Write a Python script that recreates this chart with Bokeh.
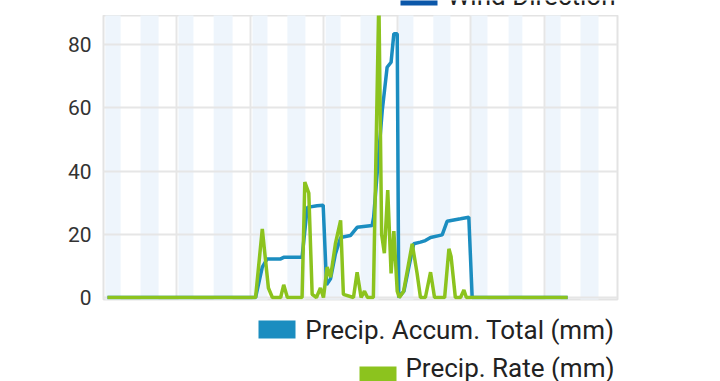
from bokeh.plotting import figure
from bokeh.layouts import column
from bokeh.models import Range1d, FixedTicker, ColumnDataSource
from bokeh.core.properties import value
from bokeh.embed import file_html
from bokeh.resources import INLINE

# ---- data (x in hours from chart start) ----
rate_hours = [1.3, 49.7, 51.9, 53.9, 55.2, 57.9, 58.9, 60.1, 64.9, 65.8, 67.1, 68.2,
              69.6, 70.9, 71.9, 73.1, 74.2, 75.8, 77.5, 78.4, 81.7, 82.9, 84.2, 85.3,
              86.3, 88.2, 90.0, 90.9, 91.8, 92.9, 94.0, 94.9, 96.0, 96.7, 98.1, 100.9,
              102.5, 103.6, 105.2, 106.9, 108.2, 111.5, 112.9, 113.6, 115.0, 116.7,
              117.8, 118.6, 151.7]
rate_mm = [0, 0, 21.7, 3, 0, 0, 4, 0, 0, 36.5, 33, 1,
           0, 3, 0, 9.6, 6.4, 17, 24.4, 1, 0, 8, 0, 2,
           0, 0, 95, 20, 14, 34, 7.6, 21, 2, 0, 2, 17,
           7.6, 0, 0, 8, 0, 0, 15.4, 13, 0, 0,
           2.4, 0, 0]

accum_hours = [1.3, 49.7, 51.9, 53.5, 57.9, 58.9, 64.9, 66.6, 69.8, 71.8, 72.9, 74.2,
               75.8, 77.5, 80.7, 82.9, 87.8, 88.3, 91.1, 92.7, 94.0, 94.9, 96.0, 96.5,
               98.2, 99.8, 101.4, 103.6, 105.2, 106.9, 110.7, 112.3, 116.7, 119.4,
               120.5, 151.7]
accum_mm = [0, 0, 9.6, 12.2, 12.2, 12.7, 12.7, 28.5, 29, 29.2, 4, 5.9,
            13.8, 19, 19.6, 22.2, 22.8, 25.4, 59, 72.8, 74.4, 83.4, 83.4, 0,
            2, 9.6, 17, 17.5, 18, 19, 19.8, 24.1, 24.9, 25.4,
            0, 0]

band_start_hours = [0.6, 12.1, 24.5, 36.0, 48.7, 60.1, 72.6, 84.0, 96.4, 107.8,
                    119.9, 132.4, 144.4, 155.9]
band_end_hours = [5.6, 18.0, 29.4, 42.2, 53.6, 66.0, 77.5, 89.9, 101.3, 113.4,
                  125.5, 136.9, 149.4, 161.8]

y_ticks = [0, 20, 40, 60, 80]
x_grid_hours = [0, 24, 48, 72, 96, 120, 144, 168]

top_label = "Wind Direction"
series_labels = ["Precip. Accum. Total (mm)", "Precip. Rate (mm)"]

BLUE = "#1b8dc0"
GREEN = "#8cc31e"
WIND = "#0b57a9"
FONT = "Roboto"


def strip(height, y_top, y_bottom):
    f = figure(width=720, height=height, output_backend="svg", toolbar_location=None,
               x_range=Range1d(103, 617), y_range=Range1d(y_bottom, y_top),
               min_border_left=103, min_border_right=103, min_border_top=0,
               min_border_bottom=0)
    f.axis.visible = False
    f.grid.visible = False
    f.outline_line_color = None
    f.background_fill_color = "white"
    f.border_fill_color = "white"
    return f


# ---- top strip: cut-off legend entry (page pixel coordinates) ----
top = strip(15, 0, 15)
top.quad(left=[400], right=[437], top=[-14], bottom=[5], fill_color=WIND, line_color=None)
top.text(x=[615], y=[-4.5], text=[top_label], text_align="right",
         text_baseline="alphabetic", text_font=value(FONT),
         text_font_size="26px", text_color="#222222")

# ---- main chart ----
p = figure(width=720, height=295, output_backend="svg", toolbar_location=None,
           x_range=Range1d(0, 168), y_range=Range1d(-0.63, 89.17),
           min_border_left=103, min_border_right=103, min_border_top=0,
           min_border_bottom=11)
p.background_fill_color = "white"
p.border_fill_color = "white"
p.outline_line_color = "#e3e3e3"
p.outline_line_width = 2

p.xaxis.visible = False
p.xgrid.ticker = FixedTicker(ticks=x_grid_hours)
p.ygrid.ticker = FixedTicker(ticks=y_ticks)
p.xgrid.grid_line_color = "#e6e6e6"
p.ygrid.grid_line_color = "#e6e6e6"
p.xgrid.grid_line_width = 2
p.ygrid.grid_line_width = 2

ya = p.yaxis[0]
ya.ticker = FixedTicker(ticks=y_ticks)
ya.axis_line_color = None
ya.major_tick_line_color = None
ya.minor_tick_line_color = None
ya.major_tick_out = 0
ya.major_label_standoff = 12
ya.major_label_text_font = FONT
ya.major_label_text_font_size = "21px"
ya.major_label_text_color = "#333333"

bands = ColumnDataSource(dict(left=band_start_hours, right=band_end_hours))
p.quad(left="left", right="right", bottom=-10, top=100, source=bands,
       fill_color="#eef5fc", line_color=None, level="underlay")

p.line(accum_hours, accum_mm, line_color=BLUE, line_width=3.5)
p.line(rate_hours, rate_mm, line_color=GREEN, line_width=3.5)

# ---- legend strip below (page pixel coordinates) ----
lg = strip(71, 310, 381)
lg.quad(left=[258, 359], right=[295, 396], top=[320, 366], bottom=[338, 384],
        fill_color=[BLUE, GREEN], line_color=None)
lg.text(x=[614, 614], y=[329, 367], text=series_labels, text_align="right",
        text_baseline="alphabetic", text_font=value(FONT),
        text_font_size="26px", text_color="#222222")

layout = column(top, p, lg, spacing=0)
open("out.html", "w").write(file_html(layout, INLINE))
